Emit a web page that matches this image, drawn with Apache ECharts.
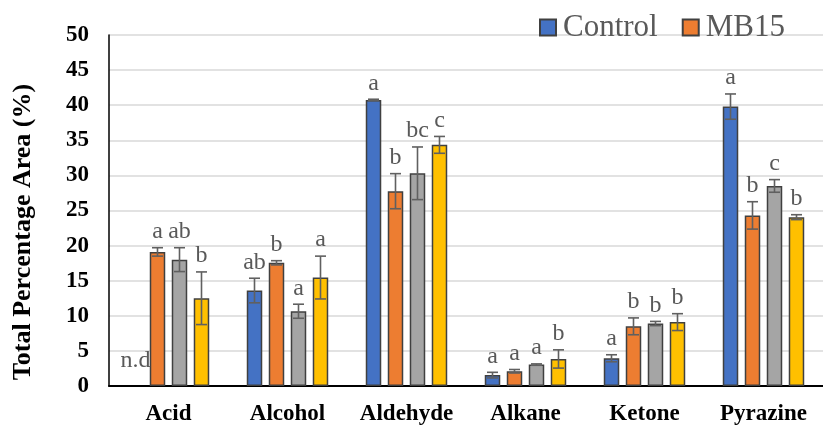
<!DOCTYPE html>
<html>
<head>
<meta charset="utf-8">
<script src="https://cdn.jsdelivr.net/npm/echarts@6/dist/echarts.min.js"></script>
<style>
  html, body { margin: 0; padding: 0; background: #fff; }
  #chart { width: 823px; height: 426px; }
</style>
</head>
<body>
<div id="chart"></div>
<script>
// Volatile compound classes
const categories = ['Acid', 'Alcohol', 'Aldehyde', 'Alkane', 'Ketone', 'Pyrazine'];

// Mean total percentage area per group (null = not detected)
const controlValues = [null, 13.6, 40.75, 1.55, 3.95, 39.8];
const mb15Values    = [19.1, 17.55, 27.75, 2.1, 8.5, 24.3];
const group3Values  = [18.0, 10.65, 30.3, 3.05, 8.9, 28.5];
const group4Values  = [12.5, 15.45, 34.35, 3.85, 9.1, 24.05];

// Standard deviations
const controlErr = [0, 1.75, 0.1, 0.4, 0.5, 1.8];
const mb15Err    = [0.6, 0.3, 2.5, 0.25, 1.2, 1.95];
const group3Err  = [1.7, 1.0, 3.75, 0.1, 0.3, 0.9];
const group4Err  = [3.75, 3.05, 1.2, 1.3, 1.2, 0.35];

// Significance letters
const controlSig = ['n.d', 'ab', 'a', 'a', 'a', 'a'];
const mb15Sig    = ['a', 'b', 'b', 'a', 'b', 'b'];
const group3Sig  = ['ab', 'a', 'bc', 'a', 'b', 'c'];
const group4Sig  = ['b', 'a', 'c', 'b', 'b', 'b'];

// Y-axis ticks
const yMin = 0, yMax = 50, yStep = 5;
const yTitle = 'Total Percentage Area (%)';

const serif = "'Liberation Serif', 'Times New Roman', serif";
const BAR_W = 15.5;
const BAR_PITCH = 22;   // centre-to-centre distance of bars in a group
const CAP = 11;

const groups = [
  { name: 'Control', color: '#4472C4', values: controlValues, err: controlErr, sig: controlSig },
  { name: 'MB15',    color: '#ED7D31', values: mb15Values,    err: mb15Err,    sig: mb15Sig },
  { name: 'Group 3', color: '#A5A5A5', values: group3Values,  err: group3Err,  sig: group3Sig },
  { name: 'Group 4', color: '#FFC000', values: group4Values,  err: group4Err,  sig: group4Sig }
];

const barSeries = groups.map(g => ({
  name: g.name,
  type: 'bar',
  barWidth: BAR_W,
  barGap: ((BAR_PITCH - BAR_W) / BAR_W * 100).toFixed(1) + '%',
  itemStyle: { color: g.color, borderColor: '#404040', borderWidth: 1.5 },
  data: g.values
}));

// Error bars and letters drawn on top of each bar
const overlaySeries = groups.map((g, gi) => ({
  name: g.name + ' err',
  type: 'custom',
  z: 5,
  silent: true,
  data: categories.map((c, i) => [i, g.values[i] == null ? 0 : g.values[i]]),
  encode: { x: 0, y: 1 },
  renderItem: function (params, api) {
    const i = params.dataIndex;
    const v = g.values[i];
    const offset = (gi - 1.5) * BAR_PITCH;
    const base = api.coord([i, 0]);
    const x = base[0] + offset;
    if (v == null) {
      return {
        type: 'text',
        style: {
          x: x, y: base[1] - 13, text: g.sig[i],
          fill: '#595959', font: '24px ' + serif,
          align: 'center', verticalAlign: 'bottom'
        }
      };
    }
    const e = g.err[i];
    const top = api.coord([i, v + e])[1];
    const bot = api.coord([i, v - e])[1];
    const lineStyle = { stroke: '#606060', lineWidth: 1.6 };
    return {
      type: 'group',
      children: [
        { type: 'line', shape: { x1: x, y1: top, x2: x, y2: bot }, style: lineStyle },
        { type: 'line', shape: { x1: x - CAP / 2, y1: top, x2: x + CAP / 2, y2: top }, style: lineStyle },
        { type: 'line', shape: { x1: x - CAP / 2, y1: bot, x2: x + CAP / 2, y2: bot }, style: lineStyle },
        {
          type: 'text',
          style: {
            x: x, y: top - 4, text: g.sig[i],
            fill: '#595959', font: '24px ' + serif,
            align: 'center', verticalAlign: 'bottom'
          }
        }
      ]
    };
  }
}));

const chart = echarts.init(document.getElementById('chart'), null, { renderer: 'canvas' });
chart.setOption({
  animation: false,
  backgroundColor: '#ffffff',
  grid: { left: 109, top: 35, width: 724, height: 351 },
  legend: {
    data: ['Control', 'MB15'],
    left: 534,
    top: 7,
    icon: 'rect',
    itemWidth: 16,
    itemHeight: 16,
    itemGap: 24,
    textStyle: { fontFamily: serif, fontSize: 31, color: '#595959', padding: [0, 0, 0, 2] }
  },
  graphic: [{
    type: 'text',
    x: 23,
    y: 232,
    rotation: Math.PI / 2,
    style: {
      text: yTitle,
      font: 'bold 26px ' + serif,
      fill: '#000',
      align: 'center',
      verticalAlign: 'middle'
    }
  }],
  xAxis: {
    type: 'category',
    data: categories,
    axisLine: { lineStyle: { color: '#000', width: 2 } },
    axisTick: { show: false },
    axisLabel: { interval: 0, fontFamily: serif, fontWeight: 'bold', fontSize: 23, color: '#000', margin: 17 },
    splitLine: { show: false }
  },
  yAxis: {
    type: 'value',
    min: yMin,
    max: yMax,
    interval: yStep,
    axisLine: { show: true, lineStyle: { color: '#000', width: 1.5 } },
    axisTick: { show: false },
    axisLabel: { fontFamily: serif, fontWeight: 'bold', fontSize: 23, color: '#000', margin: 20 },
    splitLine: { lineStyle: { color: '#D9D9D9', width: 1.5 } }
  },
  series: barSeries.concat(overlaySeries)
});
</script>
</body>
</html>
